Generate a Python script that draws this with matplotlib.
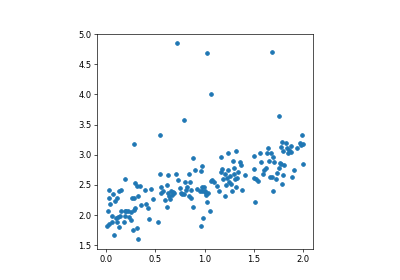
import numpy as np
import matplotlib
matplotlib.use('Agg')
import matplotlib.pyplot as plt

# points
x = [0.714, 1.024, 1.68, 1.067, 0.785, 1.758, 0.542, 0.286, 0.882,
     0.007, 0.024, 0.017, 0.024, 0.024, 0.04, 0.057, 0.064, 0.057, 0.077, 0.084, 0.098, 0.108, 0.104,
     0.125, 0.118, 0.125, 0.138, 0.152, 0.152, 0.178, 0.185, 0.192, 0.192, 0.205, 0.219,
     0.226, 0.246, 0.253, 0.259, 0.276, 0.286, 0.293, 0.286, 0.296, 0.31, 0.32, 0.317, 0.327, 0.343, 0.35,
     0.394, 0.401, 0.428, 0.438, 0.451, 0.478,
     0.529, 0.545, 0.552, 0.556, 0.572, 0.599, 0.613, 0.616, 0.63, 0.63, 0.636, 0.646, 0.657, 0.663, 0.677, 0.69, 0.704,
     0.731, 0.754, 0.764, 0.774, 0.791, 0.805, 0.808, 0.825, 0.838, 0.842, 0.848, 0.859, 0.865, 0.882, 0.906, 0.926,
     0.949, 0.96, 0.966, 0.973, 0.976, 0.983, 0.976, 0.993, 1.0, 1.007, 1.017, 1.027, 1.034, 1.057, 1.061, 1.077,
     1.094, 1.125, 1.145, 1.162, 1.168, 1.178, 1.185, 1.202, 1.202, 1.219, 1.229, 1.236, 1.242, 1.246, 1.253, 1.263, 1.276, 1.286, 1.296,
     1.303, 1.31, 1.323, 1.32, 1.33, 1.337, 1.364, 1.37, 1.377, 1.411,
     1.498, 1.505, 1.505, 1.515, 1.525, 1.539, 1.566, 1.572, 1.589, 1.606, 1.623, 1.633, 1.64, 1.657, 1.663, 1.673, 1.683,
     1.69, 1.7, 1.704, 1.724, 1.74, 1.758, 1.764, 1.774, 1.788, 1.781, 1.785, 1.795, 1.801, 1.808, 1.83, 1.842, 1.848,
     1.862, 1.875, 1.882, 1.889, 1.909, 1.936, 1.966, 1.98, 1.99, 1.997, 2.0]
y = [4.845, 4.69, 4.71, 4.006, 3.58, 3.646, 3.326, 3.177, 2.94,
     1.823, 1.856, 2.061, 2.42, 2.282, 2.18, 1.989, 2.343, 1.89, 1.67, 2.232, 1.945, 2.276, 1.89,
     2.398, 1.972, 1.807, 1.989, 2.409, 2.066, 1.878, 2.591, 2.072, 1.989, 2.072, 2.072,
     1.961, 1.923, 2.05, 2.282, 1.752, 2.083, 2.122, 2.287, 2.525, 2.48, 2.315, 1.79, 1.597, 2.486, 2.166,
     2.409, 2.177, 2.122, 1.934, 2.431, 2.26,
     1.89, 2.68, 2.459, 2.37, 2.403, 2.249, 2.497, 2.127, 2.663, 2.359, 2.309, 2.26, 2.403, 2.331, 2.387, 2.37, 2.674,
     2.58, 2.442, 2.37, 2.348, 2.343, 2.552, 2.409, 2.459, 2.68, 2.309, 2.541, 2.287, 2.409, 2.138, 2.746, 2.431,
     2.403, 2.729, 1.823, 2.459, 2.398, 1.956, 2.812, 2.47, 2.403, 2.387, 2.331, 2.221, 2.37, 2.061, 2.569, 2.58,
     2.552, 2.48, 2.403, 2.718, 2.967, 2.762, 2.597, 2.32, 2.685, 2.497, 2.608, 2.74, 3.033, 2.552, 2.646, 2.519, 2.403, 2.895, 2.68,
     2.785, 2.591, 3.066, 2.459, 2.608, 2.718, 2.873, 2.829, 2.42, 2.663,
     2.972, 2.762, 2.608, 2.215, 2.591, 2.569, 3.033, 2.884, 2.68, 2.746, 2.773, 3.022, 3.105, 2.895, 2.635, 3.022, 2.624,
     2.398, 2.967, 2.884, 2.597, 2.69, 2.773, 2.856, 2.84, 3.215, 3.133, 2.508, 2.663, 3.061, 2.829, 3.188, 3.116, 3.022,
     3.077, 3.149, 3.039, 2.635, 2.746, 3.105, 3.188, 3.16, 3.326, 3.177, 2.84]

fig = plt.figure(figsize=(400 / 60, 280 / 60), dpi=60)
ax = fig.add_subplot(111)
ax.scatter(x, y, s=20)
ax.set_box_aspect(1)
plt.savefig('out.png', dpi=60)
